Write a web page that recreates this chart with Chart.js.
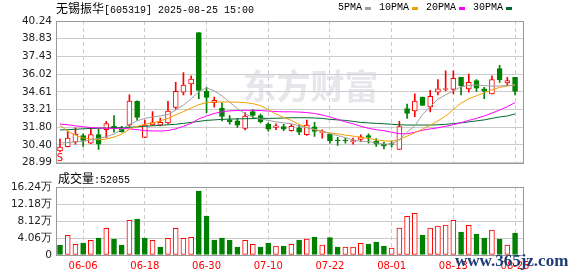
<!DOCTYPE html>
<html>
<head>
<meta charset="utf-8">
<title>无锡振华 日K</title>
<script src="https://cdn.jsdelivr.net/npm/chart.js@4/dist/chart.umd.min.js"></script>
<style>
  html, body { margin: 0; padding: 0; background: #fff; }
  body { position: relative; width: 578px; height: 276px; overflow: hidden; }
  canvas { position: absolute; left: 0; }
  #priceChart { top: 0; }
  #volChart { top: 175px; }
  .txt { position: absolute; white-space: nowrap; color: #000; line-height: 14px; }
  .cjk { font-family: "Noto Sans CJK SC", sans-serif; font-size: 12px; }
  .asc { font-family: "Liberation Mono", monospace; font-size: 10px; }
  #title { left: 56px; top: 1px; }
  #legend { left: 338px; top: 1px; display: flex; align-items: center; }
  #legend i { display: inline-block; width: 6px; height: 3px; margin: 0 8px 0 3px; }
  #volTitle { left: 58px; top: 171px; }
  #site { left: 455px; top: 251px; line-height: 18px; font: bold 17px "Liberation Serif", serif; color: #1d3c78; }
</style>
</head>
<body>
<canvas id="priceChart" width="578" height="173"></canvas>
<canvas id="volChart" width="578" height="101"></canvas>
<div id="title" class="txt"><span class="cjk">无锡振华</span><span class="asc">[605319] 2025-08-25 15:00</span></div>
<div id="legend" class="txt"></div>
<div id="volTitle" class="txt"><span class="cjk">成交量</span><span class="asc">:52055</span></div>
<div id="site" class="txt">www.365jz.com</div>
<script>
// trading days shown on the chart
const dates = ['06-03','06-04','06-05','06-06','06-09','06-10','06-11','06-12','06-13','06-16',
  '06-17','06-18','06-19','06-20','06-23','06-24','06-25','06-26','06-27','06-30',
  '07-01','07-02','07-03','07-04','07-07','07-08','07-09','07-10','07-11','07-14',
  '07-15','07-16','07-17','07-18','07-21','07-22','07-23','07-24','07-25','07-28',
  '07-29','07-30','07-31','08-01','08-04','08-05','08-06','08-07','08-08','08-11',
  '08-12','08-13','08-14','08-15','08-18','08-19','08-20','08-21','08-22','08-25'];

const openP = [29.93, 30.26, 30.63, 31.14, 30.55, 31.22, 31.61, 31.88, 31.65, 31.96,
  33.87, 31.00, 31.99, 31.96, 32.15, 33.37, 34.59, 35.24, 39.33, 34.65,
  33.76, 33.33, 32.39, 32.31, 31.72, 33.05, 32.74, 32.04, 31.80, 31.86,
  31.53, 31.76, 31.22, 31.84, 31.37, 31.26, 30.79, 30.79, 30.63, 30.84,
  31.14, 30.71, 30.44, 30.51, 30.05, 33.29, 33.11, 34.20, 33.42, 34.59,
  34.81, 34.81, 35.76, 34.85, 35.50, 34.85, 34.46, 36.47, 35.32, 35.76];
const highP = [30.87, 31.51, 31.76, 31.29, 31.72, 31.65, 32.27, 32.74, 31.88, 34.38,
  33.91, 32.37, 33.05, 32.54, 33.87, 35.37, 36.15, 35.89, 39.33, 34.98,
  34.20, 33.76, 32.74, 32.51, 32.97, 33.21, 32.86, 32.15, 32.08, 32.04,
  32.04, 32.00, 32.37, 32.19, 31.59, 31.29, 31.00, 30.94, 30.94, 31.20,
  31.29, 30.90, 30.63, 30.71, 32.27, 33.64, 34.46, 34.20, 34.73, 35.58,
  36.28, 36.28, 35.76, 36.02, 35.58, 34.98, 35.89, 36.72, 35.76, 35.76];
const lowP = [29.85, 30.24, 30.47, 30.28, 30.51, 30.04, 30.98, 31.41, 31.41, 31.88,
  32.37, 30.98, 31.96, 31.92, 32.08, 33.23, 34.38, 34.38, 34.07, 32.97,
  33.40, 32.30, 32.04, 31.80, 31.59, 32.51, 32.15, 31.49, 31.61, 31.53,
  31.49, 31.22, 31.15, 31.08, 30.94, 30.55, 30.37, 30.55, 30.47, 30.68,
  30.55, 30.29, 30.08, 30.24, 30.05, 32.51, 32.64, 33.54, 33.03, 34.38,
  34.69, 34.46, 34.38, 34.59, 34.64, 34.07, 34.46, 35.37, 35.11, 34.38];
const closeP = [30.24, 30.94, 31.26, 30.75, 31.22, 30.47, 32.09, 31.72, 31.45, 33.89,
  32.58, 31.98, 32.17, 32.19, 33.09, 34.65, 35.16, 35.63, 34.72, 34.18,
  33.95, 32.66, 32.23, 31.96, 32.70, 32.74, 32.25, 31.65, 31.92, 31.65,
  31.88, 31.41, 31.98, 31.47, 31.47, 30.73, 30.73, 30.73, 30.75, 31.04,
  31.00, 30.47, 30.32, 30.44, 31.86, 32.90, 33.89, 33.54, 34.26, 34.85,
  34.87, 35.69, 35.11, 35.37, 34.90, 34.67, 35.58, 35.58, 35.50, 34.64];

// moving averages
const ma5 = [30.55, 30.59, 30.63, 30.69, 30.79, 30.92, 31.06, 31.26, 31.65, 32.04,
  32.31, 32.51, 32.62, 32.70, 32.82, 33.17, 33.56, 34.07, 34.62, 34.93,
  34.69, 34.30, 33.79, 33.29, 32.86, 32.62, 32.47, 32.35, 32.23, 32.15,
  32.08, 31.92, 31.76, 31.65, 31.49, 31.29, 31.14, 30.98, 30.79, 30.69,
  30.67, 30.55, 30.47, 30.47, 30.81, 31.41, 31.92, 32.82, 33.44, 34.03,
  34.38, 34.69, 35.01, 35.12, 35.16, 35.11, 35.06, 35.08, 35.12, 35.16];
const ma10 = [31.96, 31.49, 31.18, 30.94, 30.87, 30.81, 30.87, 31.02, 31.26, 31.65,
  31.88, 32.04, 32.15, 32.31, 32.51, 32.78, 33.05, 33.33, 33.60, 33.76,
  33.81, 33.81, 33.81, 33.79, 33.76, 33.68, 33.52, 33.21, 32.86, 32.58,
  32.35, 32.04, 31.80, 31.61, 31.45, 31.36, 31.28, 31.18, 31.10, 31.00,
  30.92, 30.81, 30.73, 30.69, 30.82, 31.10, 31.37, 31.65, 31.96, 32.31,
  32.70, 33.21, 33.72, 34.07, 34.30, 34.54, 34.77, 34.97, 35.08, 35.16];
const ma20 = [32.06, 32.00, 31.92, 31.84, 31.78, 31.75, 31.72, 31.72, 31.72, 31.68,
  31.61, 31.54, 31.51, 31.51, 31.54, 31.68, 31.88, 32.11, 32.47, 32.70,
  32.90, 33.03, 33.11, 33.13, 33.15, 33.15, 33.13, 33.09, 33.05, 33.03,
  33.03, 33.01, 32.97, 32.90, 32.78, 32.62, 32.43, 32.23, 32.08, 31.88,
  31.72, 31.61, 31.53, 31.41, 31.29, 31.29, 31.41, 31.57, 31.67, 31.76,
  31.88, 32.00, 32.17, 32.35, 32.51, 32.70, 32.93, 33.17, 33.44, 33.76];
const ma30 = [31.59, 31.61, 31.65, 31.68, 31.71, 31.72, 31.75, 31.76, 31.78, 31.80,
  31.84, 31.88, 31.92, 31.96, 32.00, 32.04, 32.11, 32.19, 32.27, 32.35,
  32.39, 32.43, 32.45, 32.47, 32.48, 32.49, 32.51, 32.51, 32.52, 32.54,
  32.56, 32.56, 32.56, 32.54, 32.51, 32.43, 32.39, 32.35, 32.27, 32.19,
  32.15, 32.11, 32.08, 32.04, 32.00, 31.98, 31.98, 31.98, 31.98, 32.00,
  32.04, 32.09, 32.15, 32.23, 32.31, 32.39, 32.51, 32.62, 32.70, 32.86];

// volume (lots) and whether the bar is drawn as an up (red) bar
const volume = [23900, 47000, 25500, 28700, 35000, 40600, 63700, 38200, 23900, 82800,
  86000, 40600, 35000, 19100, 39800, 63700, 39800, 42200, 152800, 93100,
  35800, 40600, 35000, 19100, 35000, 25500, 19100, 28700, 21500, 21500,
  25500, 35800, 38200, 43000, 23900, 41400, 19100, 19100, 19100, 27900,
  26300, 31000, 21500, 16700, 64500, 92400, 99500, 47800, 64500, 69300,
  71600, 82800, 54900, 70800, 50200, 40600, 59700, 38200, 23900, 52055];
const volUp = [0,1,1,0,1,0,1,0,0,1, 0,0,1,0,1,1,1,1,0,0, 0,0,0,0,1,1,0,0,1,0,
  1,0,1,0,1,0,0,1,1,1, 0,0,0,1,1,1,1,0,1,1, 1,1,0,1,0,0,1,0,1,0];

const priceTicks = [28.99, 30.40, 31.80, 33.21, 34.61, 36.02, 37.43, 38.83, 40.24];
const volTicks = [0, 40600, 81200, 121800, 162400];
const volTickLabels = ['0', '4.06万', '8.12万', '12.18万', '16.24万'];
const dateTicks = [3, 11, 19, 27, 35, 43, 51, 59];
const maNames = ['5PMA', '10PMA', '20PMA', '30PMA'];

const UP = '#ff0000';
const DOWN = '#008000';
const maColors = ['#a0a0a0', '#f0a000', '#ff00ff', '#006b2e'];
const tickFont = { family: 'DejaVu Sans', size: 10.5 };

// legend at the top right
const legend = document.getElementById('legend');
maNames.forEach((name, i) => {
  legend.insertAdjacentHTML('beforeend',
    '<span class="asc">' + name + '</span><i style="background:' + maColors[i] + '"></i>');
});

const pts = arr => arr.map((v, i) => ({ x: i, y: v }));
const isUp = closeP.map((c, i) => c >= openP[i]);

const xAxis = () => ({
  type: 'linear',
  min: -0.52,
  max: 60.03,
  offset: false,
  afterBuildTicks: s => { s.ticks = dateTicks.map(v => ({ value: v })); },
  grid: { color: '#cccccc', offset: false, drawTicks: false },
  border: { display: false, dash: [4, 3] }
});

// grey frame round the plot area
const frame = {
  id: 'frame',
  afterDraw(chart) {
    const { ctx, chartArea: a } = chart;
    ctx.save();
    ctx.strokeStyle = '#999999';
    ctx.lineWidth = 1;
    ctx.strokeRect(Math.round(a.left) + 0.5, Math.round(a.top) + 0.5,
      Math.round(a.width), Math.round(a.height));
    ctx.restore();
  }
};

// faint site watermark behind the candles
const watermark = {
  id: 'watermark',
  beforeDatasetsDraw(chart) {
    const { ctx, chartArea: a } = chart;
    ctx.save();
    ctx.fillStyle = 'rgba(205, 205, 215, 0.5)';
    ctx.font = 'bold 34px "Noto Sans CJK SC"';
    ctx.textAlign = 'center';
    ctx.textBaseline = 'middle';
    ctx.fillText('东方财富', a.left + a.width * 0.545, a.top + a.height * 0.46);
    ctx.restore();
  }
};

// small "S" flag under the first candle
const flag = {
  id: 'flag',
  afterDatasetsDraw(chart) {
    const { ctx, scales } = chart;
    ctx.save();
    ctx.fillStyle = UP;
    ctx.font = '10px "DejaVu Sans"';
    ctx.textAlign = 'center';
    ctx.textBaseline = 'top';
    ctx.fillText('S', scales.x.getPixelForValue(0), scales.y.getPixelForValue(lowP[0]) + 2);
    ctx.restore();
  }
};

const maSets = [ma5, ma10, ma20, ma30].map((arr, i) => ({
  type: 'line',
  label: maNames[i],
  data: pts(arr),
  borderColor: maColors[i],
  borderWidth: 1,
  pointRadius: 0,
  tension: 0,
  fill: false,
  order: 1
}));

new Chart(document.getElementById('priceChart'), {
  type: 'bar',
  data: {
    datasets: [
      ...maSets,
      {
        label: 'body',
        data: dates.map((d, i) => ({ x: i, y: [openP[i], closeP[i]] })),
        backgroundColor: isUp.map(u => u ? '#ffffff' : DOWN),
        borderColor: isUp.map(u => u ? UP : DOWN),
        borderWidth: 1,
        borderSkipped: false,
        barThickness: 5,
        grouped: false,
        order: 2
      },
      {
        label: 'wick',
        data: dates.map((d, i) => ({ x: i, y: [lowP[i], highP[i]] })),
        backgroundColor: isUp.map(u => u ? UP : DOWN),
        borderWidth: 0,
        barThickness: 1,
        grouped: false,
        order: 3
      }
    ]
  },
  options: {
    responsive: false,
    animation: false,
    events: [],
    layout: { padding: { left: 0, top: 21, right: 55, bottom: 8 } },
    plugins: { legend: { display: false }, tooltip: { enabled: false } },
    scales: {
      x: Object.assign(xAxis(), {
        ticks: { display: false },
        afterFit: s => { s.height = 0; }
      }),
      y: {
        min: 28.99,
        max: 40.24,
        afterBuildTicks: s => { s.ticks = priceTicks.map(v => ({ value: v })); },
        ticks: { padding: 4, color: '#222222', font: tickFont, callback: v => v.toFixed(2) },
        grid: { color: '#cccccc', drawTicks: false },
        border: { display: false },
        afterFit: s => { s.width = 56; }
      }
    }
  },
  plugins: [watermark, flag, frame]
});

new Chart(document.getElementById('volChart'), {
  type: 'bar',
  data: {
    datasets: [{
      label: '成交量',
      data: pts(volume),
      backgroundColor: volUp.map(u => u ? '#ffffff' : DOWN),
      borderColor: volUp.map(u => u ? UP : DOWN),
      borderWidth: 1,
      borderSkipped: false,
      barThickness: 5,
      grouped: false
    }]
  },
  options: {
    responsive: false,
    animation: false,
    events: [],
    layout: { padding: { left: 0, top: 12, right: 55, bottom: 0 } },
    plugins: { legend: { display: false }, tooltip: { enabled: false } },
    scales: {
      x: Object.assign(xAxis(), {
        ticks: {
          color: UP, padding: 5, maxRotation: 0, autoSkip: false,
          font: { family: 'DejaVu Sans', size: 10 },
          callback: v => dates[v]
        },
        afterFit: s => { s.height = 21; }
      }),
      y: {
        min: 0,
        max: 162400,
        afterBuildTicks: s => { s.ticks = volTicks.map(v => ({ value: v })); },
        ticks: { padding: 4, color: '#222222', font: tickFont, callback: v => volTickLabels[volTicks.indexOf(v)] },
        grid: { color: '#cccccc', drawTicks: false },
        border: { display: false },
        afterFit: s => { s.width = 56; }
      }
    }
  },
  plugins: [frame]
});
</script>
</body>
</html>
